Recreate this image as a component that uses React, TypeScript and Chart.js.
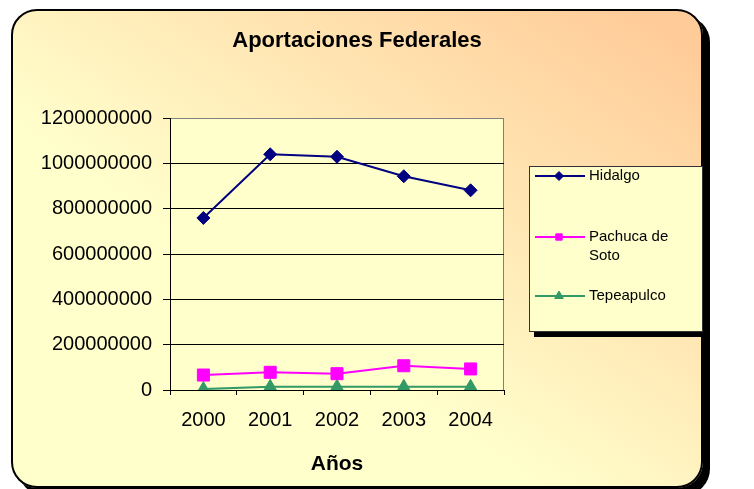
import React, { useEffect, useRef } from "react";
import { Chart, registerables } from "chart.js";
import { drawPoint } from "chart.js/helpers";

Chart.register(...registerables);

// ---- data ----
const years = ["2000", "2001", "2002", "2003", "2004"];
const hidalgo = [759000000, 1040000000, 1029000000, 943000000, 881000000];
const pachuca = [66000000, 78000000, 72000000, 107000000, 93000000];
const tepeapulco = [4000000, 14000000, 14000000, 14000000, 14000000];
const seriesNames = ["Hidalgo", "Pachuca de Soto", "Tepeapulco"];
const yMin = 0;
const yMax = 1200000000;
const yStep = 200000000;
const chartTitle = "Aportaciones Federales";
const xAxisTitle = "Años";

const FONT = "'Liberation Sans', Arial, sans-serif";

const plotBgPlugin = {
  id: "plotBg",
  beforeDraw(chart: any) {
    const { ctx, chartArea } = chart;
    const { left, top, right, bottom } = chartArea;
    ctx.save();
    ctx.fillStyle = "#FFFFCC";
    ctx.fillRect(left, top, right - left, bottom - top);
    ctx.strokeStyle = "#808080";
    ctx.lineWidth = 1;
    ctx.beginPath();
    ctx.moveTo(left, top + 0.5);
    ctx.lineTo(right - 0.5, top + 0.5);
    ctx.lineTo(right - 0.5, bottom);
    ctx.stroke();
    ctx.restore();
  },
};

const titlePlugin = {
  id: "customTitle",
  afterDraw(chart: any, _args: any, opts: any) {
    const { ctx } = chart;
    ctx.save();
    ctx.font = `bold 22px ${FONT}`;
    ctx.fillStyle = "#000";
    ctx.textAlign = "center";
    ctx.textBaseline = "alphabetic";
    ctx.fillText(opts.text, opts.x, opts.y);
    ctx.restore();
  },
};

const legendPlugin = {
  id: "customLegend",
  afterDraw(chart: any, _args: any, opts: any) {
    const { ctx } = chart;
    const { x, y, w, h, rows } = opts;
    ctx.save();
    // shadow
    ctx.fillStyle = "#000";
    ctx.fillRect(x + 5, y + 5, w, h);
    // box
    ctx.fillStyle = "#FFFFCC";
    ctx.fillRect(x, y, w, h);
    ctx.strokeStyle = "#333";
    ctx.lineWidth = 1;
    ctx.strokeRect(x + 0.5, y + 0.5, w - 1, h - 1);
    ctx.font = `normal 15px ${FONT}`;
    ctx.textBaseline = "middle";
    ctx.textAlign = "left";
    chart.data.datasets.forEach((ds: any, i: number) => {
      const ry = rows[i];
      ctx.strokeStyle = ds.borderColor;
      ctx.lineWidth = 2;
      ctx.beginPath();
      ctx.moveTo(x + 6, ry);
      ctx.lineTo(x + 56, ry);
      ctx.stroke();
      ctx.fillStyle = ds.borderColor;
      ctx.strokeStyle = ds.borderColor;
      ctx.lineWidth = 1;
      drawPoint(ctx, { pointStyle: ds.pointStyle, radius: ds.legendRadius, borderWidth: 1, rotation: 0 } as any, x + 30, ry);
      // wrap text
      const words = String(ds.label).split(" ");
      const lines: string[] = [];
      let cur = "";
      const maxW = w - 64;
      words.forEach((wd) => {
        const test = cur ? cur + " " + wd : wd;
        if (ctx.measureText(test).width > maxW && cur) {
          lines.push(cur);
          cur = wd;
        } else cur = test;
      });
      if (cur) lines.push(cur);
      ctx.fillStyle = "#000";
      lines.forEach((ln, k) => ctx.fillText(ln, x + 60, ry + k * 19));
    });
    ctx.restore();
  },
};

export default function App() {
  const ref = useRef<HTMLCanvasElement | null>(null);

  useEffect(() => {
    if (!ref.current) return;
    const colors = ["#000080", "#FF00FF", "#339966"];
    const chart = new Chart(ref.current, {
      type: "line",
      data: {
        labels: years,
        datasets: [
          {
            label: seriesNames[0],
            data: hidalgo,
            borderColor: colors[0],
            backgroundColor: colors[0],
            pointBackgroundColor: colors[0],
            pointBorderColor: colors[0],
            borderWidth: 2,
            pointStyle: "rectRot",
            pointRadius: 6.5,
            pointBorderWidth: 1,
            legendRadius: 4.5,
          } as any,
          {
            label: seriesNames[1],
            data: pachuca,
            borderColor: colors[1],
            backgroundColor: colors[1],
            pointBackgroundColor: colors[1],
            pointBorderColor: colors[1],
            borderWidth: 2,
            pointStyle: "rect",
            pointRadius: 8.5,
            pointBorderWidth: 1,
            legendRadius: 4.5,
          } as any,
          {
            label: seriesNames[2],
            data: tepeapulco,
            borderColor: colors[2],
            backgroundColor: colors[2],
            pointBackgroundColor: colors[2],
            pointBorderColor: colors[2],
            borderWidth: 2,
            pointStyle: "triangle",
            pointRadius: 7.5,
            pointBorderWidth: 1,
            legendRadius: 5,
          } as any,
        ],
      },
      options: {
        responsive: false,
        animation: false,
        devicePixelRatio: 1,
        layout: { padding: { left: 0, top: 118, right: 250, bottom: 0 } },
        plugins: {
          legend: { display: false },
          title: { display: false },
          tooltip: { enabled: false },
          customTitle: { text: chartTitle, x: 357, y: 47 },
          customLegend: { x: 529, y: 166, w: 174, h: 166, rows: [176, 237, 296] },
        } as any,
        scales: {
          x: {
            type: "category",
            offset: true,
            grid: {
              display: true,
              drawOnChartArea: false,
              drawTicks: true,
              tickLength: 5,
              color: "#000",
              offset: true,
            },
            border: { display: true, color: "#000", width: 1 },
            ticks: {
              color: "#000",
              font: { family: FONT, size: 20 },
              padding: 13,
              maxRotation: 0,
              autoSkip: false,
            },
            title: {
              display: true,
              text: xAxisTitle,
              color: "#000",
              font: { family: FONT, size: 21, weight: "bold" },
              padding: { top: 0, bottom: 12 },
            },
            afterFit(scale: any) {
              scale.height = 99;
            },
          },
          y: {
            min: yMin,
            max: yMax,
            grid: {
              color: (c: any) => (c.tick && c.tick.value === yMax ? "#808080" : "#000"),
              lineWidth: 1,
              drawTicks: true,
              tickLength: 7,
              tickColor: "#000",
            },
            border: { display: true, color: "#000", width: 1 },
            ticks: {
              stepSize: yStep,
              color: "#000",
              font: { family: FONT, size: 20 },
              padding: 11,
              callback: (v: any) => String(v),
            },
            afterFit(scale: any) {
              scale.width = 170;
            },
          },
        },
      },
      plugins: [plotBgPlugin, titlePlugin, legendPlugin],
    });
    return () => chart.destroy();
  }, []);

  return (
    <div style={{ position: "absolute", left: 0, top: 0, width: 754, height: 489, overflow: "hidden" }}>
      <div
        style={{
          position: "absolute",
          left: 11,
          top: 9,
          width: 692,
          height: 479,
          boxSizing: "border-box",
          border: "2px solid #000",
          borderRadius: 26,
          boxShadow: "7px 7px 0 #000",
          background: "linear-gradient(to top right, #FFFFCC 38%, #FFCC99 95%)",
        }}
      />
      <canvas
        ref={ref}
        width={754}
        height={489}
        style={{ position: "absolute", left: 0, top: 0, width: 754, height: 489 }}
      />
    </div>
  );
}
